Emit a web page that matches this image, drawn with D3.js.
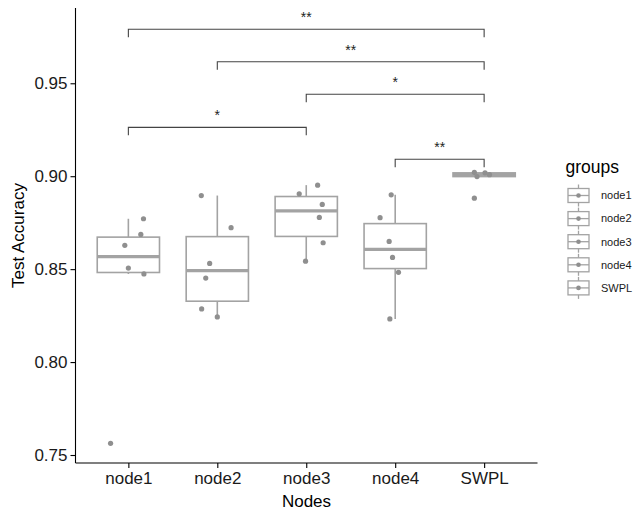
<!DOCTYPE html>
<html><head><meta charset="utf-8">
<script src="https://cdn.jsdelivr.net/npm/d3@7"></script>
<style>
body{margin:0;background:#fff}
svg{display:block}
text{font-family:"Liberation Sans",Arial,Helvetica,sans-serif}
</style>
</head><body>
<svg id="c" width="642" height="513"></svg>
<script>
// ---- data ----
const categories = ["node1", "node2", "node3", "node4", "SWPL"];
const node1Values = [0.8628, 0.8687, 0.8771, 0.8506, 0.8474, 0.7563];
const node2Values = [0.8896, 0.8723, 0.8531, 0.8452, 0.8286, 0.8243];
const node3Values = [0.8952, 0.8905, 0.8848, 0.8778, 0.8642, 0.8543];
const node4Values = [0.8900, 0.8777, 0.8649, 0.8563, 0.8483, 0.8232];
const swplValues  = [0.9021, 0.8998, 0.9018, 0.9008, 0.8882];
// horizontal jitter of each point, as a fraction of the category step
const node1Jitter = [-0.04, 0.14, 0.17, 0.0, 0.175, -0.2];
const node2Jitter = [-0.18, 0.155, -0.086, -0.13, -0.176, 0.0];
const node3Jitter = [0.128, -0.079, 0.18, 0.147, 0.19, -0.008];
const node4Jitter = [-0.045, -0.17, -0.068, -0.03, 0.037, -0.06];
const swplJitter  = [-0.11, -0.08, 0.01, 0.06, -0.11];
const yTicks = [0.75, 0.80, 0.85, 0.90, 0.95];
const yDomain = [0.7457, 0.9905];
const compA = ["node1", "node2", "node3", "node1", "node4"];
const compB = ["SWPL", "SWPL", "SWPL", "node3", "SWPL"];
const compLabel = ["**", "**", "*", "*", "**"];
const compY = [0.9791, 0.9616, 0.9441, 0.9263, 0.9091];

const valuesBy = {node1: node1Values, node2: node2Values, node3: node3Values, node4: node4Values, SWPL: swplValues};
const jitterBy = {node1: node1Jitter, node2: node2Jitter, node3: node3Jitter, node4: node4Jitter, SWPL: swplJitter};

// ---- layout ----
const svg = d3.select("#c");
const pL = 75.5, pR = 537.5, pT = 8, pB = 463;
const x = d3.scalePoint().domain(categories).range([75, 537.5]).padding(0.6);
const y = d3.scaleLinear().domain(yDomain).range([pB, pT]);
const step = x.step();
const boxW = step * 0.7;
const grey = "#a3a3a3", ptCol = "#8f8f8f";

// ---- boxplots ----
const stats = categories.map(c => {
  const s = valuesBy[c].slice().sort(d3.ascending);
  const q1 = d3.quantileSorted(s, 0.25), med = d3.quantileSorted(s, 0.5), q3 = d3.quantileSorted(s, 0.75);
  const iqr = q3 - q1;
  const lo = d3.min(s.filter(v => v >= q1 - 1.5 * iqr));
  const hi = d3.max(s.filter(v => v <= q3 + 1.5 * iqr));
  return {c, q1, med, q3, lo, hi};
});
const gb = svg.append("g");
stats.forEach(d => {
  const cx = x(d.c);
  gb.append("line").attr("x1", cx).attr("x2", cx).attr("y1", y(d.hi)).attr("y2", y(d.q3))
    .attr("stroke", grey).attr("stroke-width", 1.6);
  gb.append("line").attr("x1", cx).attr("x2", cx).attr("y1", y(d.q1)).attr("y2", y(d.lo))
    .attr("stroke", grey).attr("stroke-width", 1.6);
  gb.append("rect").attr("x", cx - boxW / 2).attr("width", boxW)
    .attr("y", y(d.q3)).attr("height", Math.max(0, y(d.q1) - y(d.q3)))
    .attr("fill", "#fff").attr("stroke", grey).attr("stroke-width", 1.6);
  gb.append("line").attr("x1", cx - boxW / 2).attr("x2", cx + boxW / 2)
    .attr("y1", y(d.med)).attr("y2", y(d.med)).attr("stroke", grey).attr("stroke-width", 3.2);
});

// ---- jittered points ----
const gp = svg.append("g");
categories.forEach(c => {
  valuesBy[c].forEach((v, i) => {
    gp.append("circle").attr("cx", x(c) + jitterBy[c][i] * step).attr("cy", y(v))
      .attr("r", 2.6).attr("fill", ptCol);
  });
});

// ---- significance brackets ----
const gs = svg.append("g");
const tickDrop = 8;
compA.forEach((a, i) => {
  const x1 = x(a), x2 = x(compB[i]), yy = y(compY[i]);
  gs.append("path").attr("d", `M${x1},${yy + tickDrop}V${yy}H${x2}V${yy + tickDrop}`)
    .attr("fill", "none").attr("stroke", "#444").attr("stroke-width", 1.1);
  gs.append("text").attr("x", (x1 + x2) / 2).attr("y", yy - 7).attr("text-anchor", "middle")
    .attr("font-size", 14).attr("fill", "#222").text(compLabel[i]);
});

// ---- axes ----
const ya = svg.append("g").attr("transform", `translate(${pL},0)`)
  .call(d3.axisLeft(y).tickValues(yTicks).tickFormat(d3.format(".2f")).tickSize(5).tickPadding(3));
ya.select(".domain").attr("d", `M0,${pT}V${pB}`);
const xa = svg.append("g").attr("transform", `translate(0,${pB})`)
  .call(d3.axisBottom(x).tickSize(5).tickPadding(4));
xa.select(".domain").attr("d", `M${pL},0H${pR}`);
[ya, xa].forEach(g => {
  g.select(".domain").attr("stroke", "#000").attr("stroke-width", 1.1);
  g.selectAll(".tick line").attr("stroke", "#000").attr("stroke-width", 1.1);
  g.selectAll(".tick text").attr("fill", "#1a1a1a").attr("font-size", 17)
    .attr("font-family", "'Liberation Sans',Arial,Helvetica,sans-serif");
});

svg.append("text").attr("x", (pL + pR) / 2).attr("y", 506.5).attr("text-anchor", "middle")
  .attr("font-size", 17).attr("fill", "#000").text("Nodes");
svg.append("text").attr("transform", `translate(24,${(pT + pB) / 2}) rotate(-90)`)
  .attr("text-anchor", "middle").attr("font-size", 17).attr("fill", "#000").text("Test Accuracy");

// ---- legend ----
const gl = svg.append("g");
gl.append("text").attr("x", 565.5).attr("y", 172.5).attr("font-size", 17.5).attr("fill", "#000").text("groups");
categories.forEach((c, i) => {
  const cy = 195.5 + i * 23.1, cx = 578.5;
  gl.append("line").attr("x1", cx).attr("x2", cx).attr("y1", cy - 11).attr("y2", cy + 11)
    .attr("stroke", grey).attr("stroke-width", 1.3);
  gl.append("rect").attr("x", 568).attr("y", cy - 7).attr("width", 21).attr("height", 14)
    .attr("fill", "#fff").attr("stroke", grey).attr("stroke-width", 1.3);
  gl.append("line").attr("x1", 568).attr("x2", 589).attr("y1", cy).attr("y2", cy)
    .attr("stroke", grey).attr("stroke-width", 1.3);
  gl.append("circle").attr("cx", cx).attr("cy", cy).attr("r", 2.3).attr("fill", ptCol);
  gl.append("text").attr("x", 601).attr("y", cy + 3.8).attr("font-size", 11).attr("fill", "#1a1a1a").text(c);
});
</script>
</body></html>
